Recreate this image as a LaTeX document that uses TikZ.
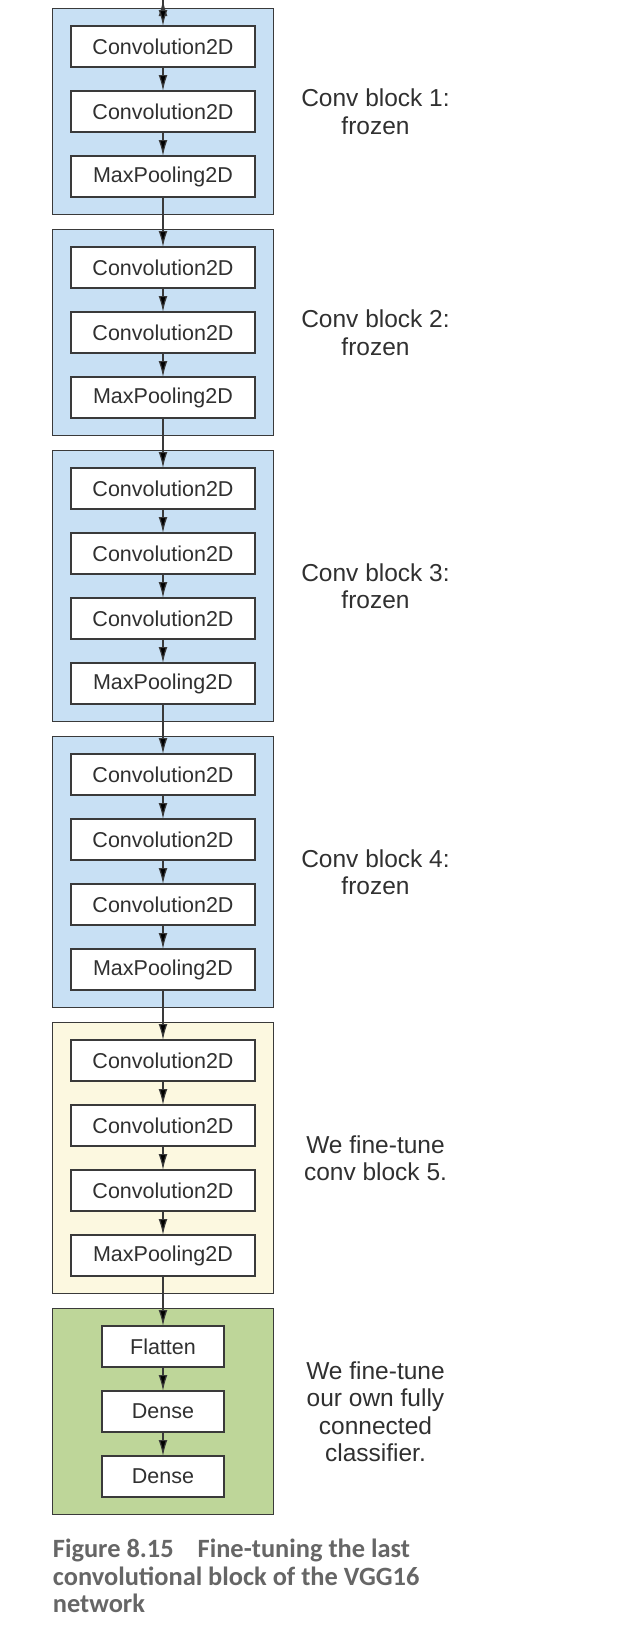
\documentclass[tikz,border=0pt]{standalone}
\usepackage{fontspec}
\setmainfont{Liberation Sans}
\newfontfamily\capfont{Carlito}
\usetikzlibrary{positioning,fit,backgrounds,arrows.meta}

\definecolor{frozenblue}{HTML}{C8E0F4}
\definecolor{tuneyellow}{HTML}{FCF8E0}
\definecolor{densegreen}{HTML}{BED699}
\definecolor{linegray}{HTML}{3A3A3A}
\definecolor{textgray}{HTML}{303030}
\definecolor{capgray}{HTML}{666666}

\begin{document}
\begin{tikzpicture}[
  >={Latex[length=8pt,width=4.4pt]},
  node distance=12pt,
  layer/.style={draw=linegray, line width=0.7pt, fill=white, minimum width=92pt, minimum height=20.5pt, inner sep=0pt, outer sep=0pt, font=\fontsize{10.75}{12}\selectfont, text=textgray},
  small layer/.style={layer, minimum width=61pt},
  block/.style={draw=linegray, line width=0.6pt, inner xsep=9.25pt, inner ysep=8.75pt, outer sep=0pt},
  note/.style={align=center, inner sep=0pt, font=\fontsize{12.25}{13.75}\selectfont, text=textgray},
  caption/.style={align=left, inner sep=0pt, font=\capfont\bfseries\fontsize{13.2}{13.8}\selectfont, text=capgray},
  flow/.style={draw=linegray, line width=0.6pt}
]
\useasboundingbox (0,0) rectangle (317pt,-822pt);

% conv block 1
\node[layer](c11) at (81.5pt,-23.25pt) {Convolution2D};
\node[layer](c12)[below = of c11]{Convolution2D};
\node[layer](m1)[below = of c12]{MaxPooling2D};
% conv block 2
\node[layer](c21)[below = 25pt of m1]{Convolution2D};
\node[layer](c22)[below = of c21]{Convolution2D};
\node[layer](m2)[below = of c22]{MaxPooling2D};
% conv block 3
\node[layer](c31)[below = 25pt of m2]{Convolution2D};
\node[layer](c32)[below = of c31]{Convolution2D};
\node[layer](c33)[below = of c32]{Convolution2D};
\node[layer](m3)[below = of c33]{MaxPooling2D};
% conv block 4
\node[layer](c41)[below = 25pt of m3]{Convolution2D};
\node[layer](c42)[below = of c41]{Convolution2D};
\node[layer](c43)[below = of c42]{Convolution2D};
\node[layer](m4)[below = of c43]{MaxPooling2D};
% conv block 5
\node[layer](c51)[below = 25pt of m4]{Convolution2D};
\node[layer](c52)[below = of c51]{Convolution2D};
\node[layer](c53)[below = of c52]{Convolution2D};
\node[layer](m5)[below = of c53]{MaxPooling2D};
% classifier
\node[small layer](fl)[below = 25pt of m5]{Flatten};
\node[small layer](d1)[below = of fl]{Dense};
\node[small layer](d2)[below = of d1]{Dense};

\begin{scope}[on background layer]
\node[block, fill=frozenblue, fit=(c11)(m1)](b1){};
\node[block, fill=frozenblue, fit=(c21)(m2)](b2){};
\node[block, fill=frozenblue, fit=(c31)(m3)](b3){};
\node[block, fill=frozenblue, fit=(c41)(m4)](b4){};
\node[block, fill=tuneyellow, fit=(c51)(m5)](b5){};
\node[block, fill=densegreen, fit=(fl)(d2)(fl -| m5.west)(fl -| m5.east)](b6){};
\end{scope}

\node[note](t1)[right = 51pt of b1.east, anchor=center]{Conv block 1:\\frozen};
\node[note](t2)[right = 51pt of b2.east, anchor=center]{Conv block 2:\\frozen};
\node[note](t3)[right = 51pt of b3.east, anchor=center]{Conv block 3:\\frozen};
\node[note](t4)[right = 51pt of b4.east, anchor=center]{Conv block 4:\\frozen};
\node[note](t5)[right = 51pt of b5.east, anchor=center]{We fine-tune\\conv block 5.};
\node[note](t6)[right = 51pt of b6.east, anchor=center]{We fine-tune\\our own fully\\connected\\classifier.};

\node[caption](cap)[below = 12pt of b6.south west, anchor=north west]{Figure 8.15\hspace{12pt}Fine-tuning the last\\convolutional block of the VGG16\\network};

\coordinate[above = 13pt of c11](src);

\path[->, flow]
	(src) edge (c11)
	(c11) edge (c12)
	(c12) edge (m1)
	(m1) edge (c21)
	(c21) edge (c22)
	(c22) edge (m2)
	(m2) edge (c31)
	(c31) edge (c32)
	(c32) edge (c33)
	(c33) edge (m3)
	(m3) edge (c41)
	(c41) edge (c42)
	(c42) edge (c43)
	(c43) edge (m4)
	(m4) edge (c51)
	(c51) edge (c52)
	(c52) edge (c53)
	(c53) edge (m5)
	(m5) edge (fl)
	(fl) edge (d1)
	(d1) edge (d2);
\end{tikzpicture}
\end{document}
